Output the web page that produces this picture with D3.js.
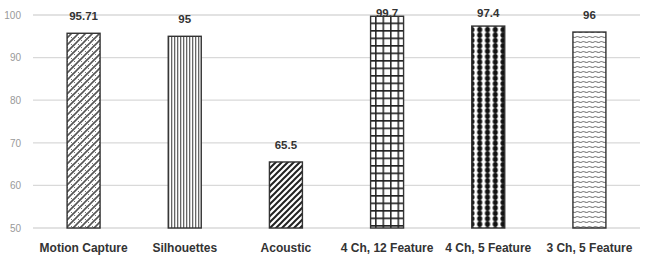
<!DOCTYPE html>
<html><head><meta charset="utf-8">
<script src="https://cdn.jsdelivr.net/npm/d3@7"></script>
<style>body{margin:0;background:#fff}svg{display:block}</style>
</head><body>
<script>
const categories = ["Motion Capture","Silhouettes","Acoustic","4 Ch, 12 Feature","4 Ch, 5 Feature","3 Ch, 5 Feature"];
const values = [95.71, 95, 65.5, 99.7, 97.4, 96];
const valueLabels = ["95.71","95","65.5","99.7","97.4","96"];
const yTicks = [50,60,70,80,90,100];

const W=645,H=271;
const svg=d3.select("body").append("svg").attr("width",W).attr("height",H);
const defs=svg.append("defs");

function pat(id,w,h){return defs.append("pattern").attr("id",id).attr("patternUnits","userSpaceOnUse").attr("width",w).attr("height",h);}
let p=pat("p0",7,7);
p.append("rect").attr("width",7).attr("height",7).attr("fill","#fff");
p.append("path").attr("d","M0,7 L7,0 M-1,1 L1,-1 M6,8 L8,6").attr("stroke","#555").attr("stroke-width",1.6);
p.append("path").attr("d","M1,2 L3,4 M4,5 L5,6").attr("stroke","#777").attr("stroke-width",1);
p=pat("p1",3,4);
p.append("rect").attr("width",3).attr("height",4).attr("fill","#fff");
p.append("rect").attr("x",0).attr("width",1.3).attr("height",4).attr("fill","#666");
p=pat("p2",6,6);
p.append("rect").attr("width",6).attr("height",6).attr("fill","#fff");
p.append("path").attr("d","M0,6 L6,0 M-1,1 L1,-1 M5,7 L7,5").attr("stroke","#222").attr("stroke-width",2);
p=pat("p3",7.5,7.5);
p.append("rect").attr("width",7.5).attr("height",7.5).attr("fill","#fff");
p.append("path").attr("d","M0.8,0 V7.5 M0,0.8 H7.5").attr("stroke","#222").attr("stroke-width",1.5);
p=pat("p4",7.8,5.4);
p.append("rect").attr("width",7.8).attr("height",5.4).attr("fill","#fff");
p.append("circle").attr("cx",3.9).attr("cy",2.7).attr("r",2.6).attr("fill","#111");
p=pat("p5",6,5);
p.append("rect").attr("width",6).attr("height",5).attr("fill","#fff");
p.append("path").attr("d","M0,2 Q1.5,1 3,2 T6,2").attr("stroke","#888").attr("stroke-width",1.2).attr("fill","none");

const x=d3.scaleBand().domain(categories).range([33,640]).paddingInner(0.674).paddingOuter(0.337);
const y=d3.scaleLinear().domain([50,100]).range([228,15]);

svg.append("g").selectAll("line").data(yTicks).join("line")
 .attr("x1",33).attr("x2",640).attr("y1",d=>y(d)).attr("y2",d=>y(d))
 .attr("stroke","#d9d9d9").attr("stroke-width",1.3);

const yAxis=svg.append("g").attr("transform","translate(21,0)")
 .call(d3.axisLeft(y).tickValues(yTicks).tickSize(0).tickPadding(0));
yAxis.select(".domain").remove();
yAxis.selectAll("text").attr("fill","#999").style("font-family","'Liberation Sans Narrow','Liberation Sans',sans-serif").style("font-size","10px");

svg.append("g").selectAll("rect").data(values).join("rect")
 .attr("x",(d,i)=>x(categories[i])).attr("width",x.bandwidth())
 .attr("y",d=>y(d)).attr("height",d=>y(50)-y(d))
 .attr("fill",(d,i)=>`url(#p${i})`).attr("stroke","#333").attr("stroke-width",1.4);

svg.append("g").selectAll("text").data(values).join("text")
 .attr("x",(d,i)=>x(categories[i])+x.bandwidth()/2)
 .attr("y",d=>Math.max(y(d)-13,17))
 .attr("text-anchor","middle").attr("fill","#333")
 .style("font-family","'Liberation Sans Narrow','Liberation Sans',sans-serif").style("font-size","11.5px").style("font-weight","bold")
 .text((d,i)=>valueLabels[i]);

const xAxis=svg.append("g").attr("transform","translate(0,228)")
 .call(d3.axisBottom(x).tickSize(0).tickPadding(15));
xAxis.select(".domain").remove();
xAxis.selectAll("text").attr("fill","#333")
 .style("font-family","'Liberation Sans Narrow','Liberation Sans',sans-serif").style("font-size","12px").style("font-weight","bold");
</script>
</body></html>
